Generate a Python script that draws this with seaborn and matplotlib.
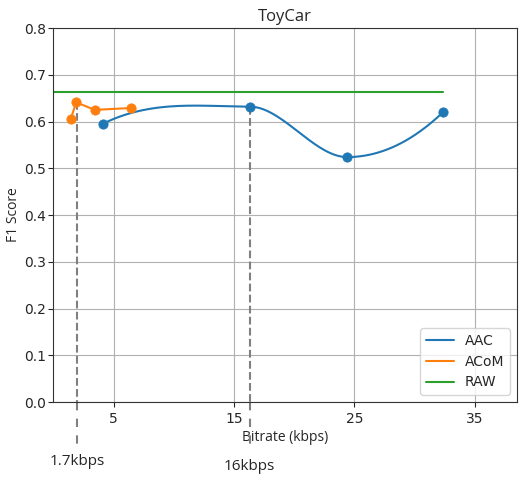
import numpy as np
import pandas as pd
import matplotlib
matplotlib.use('Agg')
import matplotlib.pyplot as plt
import seaborn as sns

# values
aac_rate = [4.1, 16.3, 24.4, 32.4]
aac_f1 = [0.595, 0.632, 0.524, 0.621]
acom_rate = [1.45, 1.9, 3.45, 6.45]
acom_f1 = [0.606, 0.641, 0.625, 0.629]
raw_rate = [0.0, 32.4]
raw_f1 = [0.664, 0.664]
marks = [(2.0, 0.641, '1.7kbps'), (16.3, 0.632, '16kbps')]


def pchip(x, y, xs):
    # monotone cubic for a smooth line through the points
    x = np.asarray(x, float); y = np.asarray(y, float)
    h = np.diff(x); d = np.diff(y) / h
    m = np.zeros_like(y)
    for k in range(1, len(x) - 1):
        if d[k - 1] * d[k] > 0:
            w1 = 2 * h[k] + h[k - 1]; w2 = h[k] + 2 * h[k - 1]
            m[k] = (w1 + w2) / (w1 / d[k - 1] + w2 / d[k])
    m[0] = ((2 * h[0] + h[1]) * d[0] - h[0] * d[1]) / (h[0] + h[1])
    if np.sign(m[0]) != np.sign(d[0]): m[0] = 0
    m[-1] = ((2 * h[-1] + h[-2]) * d[-1] - h[-1] * d[-2]) / (h[-1] + h[-2])
    if np.sign(m[-1]) != np.sign(d[-1]): m[-1] = 0
    out = np.empty_like(xs)
    for i, xv in enumerate(xs):
        k = min(np.searchsorted(x, xv, side='right') - 1, len(x) - 2)
        t = (xv - x[k]) / h[k]
        h00 = 2*t**3 - 3*t**2 + 1; h10 = t**3 - 2*t**2 + t
        h01 = -2*t**3 + 3*t**2; h11 = t**3 - t**2
        out[i] = h00*y[k] + h10*h[k]*m[k] + h01*y[k+1] + h11*h[k]*m[k+1]
    return out


sns.set_style('ticks')
plt.rcParams['font.family'] = ['DejaVu Sans']
lab_font = ['Open Sans', 'DejaVu Sans']

fig = plt.figure(figsize=(5.28, 4.8), dpi=100)
ax = fig.add_axes([0.101, 0.1625, 0.878, 0.779])

xs = np.linspace(aac_rate[0], aac_rate[-1], 300)
smooth = pd.DataFrame({'x': xs, 'y': pchip(aac_rate, aac_f1, xs)})
sns.lineplot(data=smooth, x='x', y='y', ax=ax, color='C0', label='AAC', linewidth=1.5)
sns.scatterplot(x=aac_rate, y=aac_f1, ax=ax, color='C0', s=45, edgecolor='C0', zorder=3)
sns.lineplot(x=acom_rate, y=acom_f1, ax=ax, color='C1', label='ACoM', linewidth=1.5, sort=False)
sns.scatterplot(x=acom_rate, y=acom_f1, ax=ax, color='C1', s=45, edgecolor='C1', zorder=3)
sns.lineplot(x=raw_rate, y=raw_f1, ax=ax, color='C2', label='RAW', linewidth=1.5)

ax.set_xlim(0, 38.5)
ax.set_ylim(0, 0.8)
ax.set_xticks([5, 15, 25, 35])
ax.set_yticks(np.arange(0, 0.81, 0.1))
ax.tick_params(axis='y', pad=2)
ax.grid(True, color='#b0b0b0', linewidth=0.8)
for s in ax.spines.values():
    s.set_color('#333333')
ax.set_title('ToyCar', fontsize=12, family=lab_font, pad=5)
ax.set_xlabel('Bitrate (kbps)', fontsize=10, family=lab_font, labelpad=3)
ax.set_ylabel('F1 Score', fontsize=10, family=lab_font, labelpad=2)

tr = ax.get_xaxis_transform()
for (xv, yv, lab), yend in zip(marks, [-0.123, -0.134]):
    ax.plot([xv, xv], [yv, 0], color='gray', linestyle='--', linewidth=1.5, zorder=2)
    ax.plot([xv, xv], [0, yend], color='gray', linestyle='--', linewidth=1.5,
            transform=tr, clip_on=False, dashes=(4, 4))
for (xv, yv, lab), ty in zip(marks, [-0.158, -0.173]):
    ax.text(xv, ty, lab, transform=tr, ha='center', va='center', fontsize=11,
            family=lab_font)

ax.legend(loc='lower right', fontsize=10)
fig.savefig('out.png', dpi=100)
